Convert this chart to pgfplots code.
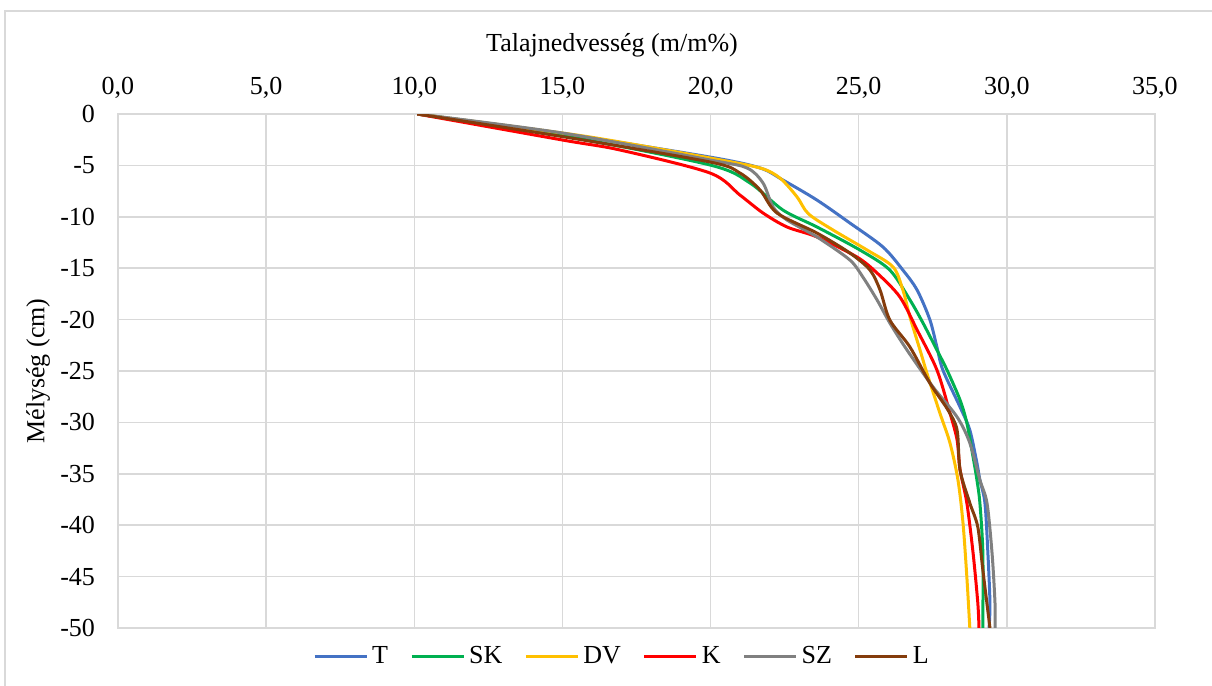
\documentclass[border=0pt]{standalone}
\usepackage{pgfplots}
\pgfplotsset{compat=1.18}
\usepackage{fontspec}
\setmainfont{Liberation Serif}

\definecolor{cT}{HTML}{4472C4}
\definecolor{cSK}{HTML}{00B050}
\definecolor{cDV}{HTML}{FFC000}
\definecolor{cK}{HTML}{FF0000}
\definecolor{cSZ}{HTML}{808080}
\definecolor{cL}{HTML}{843C0C}
\definecolor{gridc}{HTML}{D9D9D9}

\begin{document}
\fontsize{13}{15.6}\selectfont
\begin{tikzpicture}
\path[use as bounding box] (0,0) rectangle (606pt,343pt);
\draw[gridc, line width=0.75pt] (2.5pt,0) -- (2.5pt,337.5pt) -- (606pt,337.5pt);
\begin{axis}[
    at={(59pt,29pt)}, anchor=south west,
    scale only axis,
    width=518.5pt, height=257pt,
    xmin=0, xmax=35, ymin=-50, ymax=0,
    xtick distance=5, ytick distance=5,
    xticklabel pos=upper,
    major tick length=0pt,
    grid=major,
    major grid style={gridc, line width=0.75pt},
    axis line style={gridc, line width=0.75pt},
    /pgf/number format/assume math mode=true,
    font=\fontsize{13}{15.6}\selectfont,
    xticklabel style={/pgf/number format/.cd, fixed, fixed zerofill, precision=1, use comma, /tikz/.cd, yshift=3pt},
    yticklabel style={xshift=-7pt},
    xlabel={Talajnedvesség (m/m\%)},
    ylabel={Mélység (cm)},
    x label style={at={(axis description cs:0.4764,1.134)}, anchor=center},
    y label style={at={(axis description cs:-0.0771,0.5)}, rotate=0, anchor=center},
    legend columns=6,
    legend style={at={(0.487,-0.056)}, anchor=center, draw=none, fill=none,
        /tikz/every even column/.append style={column sep=9pt}},
    legend image code/.code={\draw[#1] (0pt,0pt) -- (26pt,0pt);},
    every axis plot/.append style={line width=1.5pt, smooth, tension=0.5},
]
\addplot[cT] coordinates {
(10.1,0) (15.0,-1.9) (20.0,-4.2) (21.67,-5.25) (22.44,-6.42) (23.59,-8.37)
(24.70,-10.6) (25.82,-12.94) (26.49,-15.18) (26.97,-17.12) (27.40,-20.0)
(27.64,-22.67) (27.84,-24.9) (28.42,-28.5) (28.75,-30.74) (28.99,-33.95)
(29.09,-35.6) (29.26,-37.84) (29.36,-42.7) (29.43,-47.57) (29.40,-50)
};
\addlegendentry{T}
\addplot[cSK] coordinates {
(10.1,0) (15.0,-2.1) (19.98,-4.96) (21.33,-6.71) (22.44,-9.34) (23.59,-10.99)
(25.04,-13.23) (26.05,-15.18) (26.73,-18.09) (27.17,-20.33) (27.64,-22.96)
(27.98,-24.9) (28.42,-27.82) (28.65,-30.06) (28.86,-33.37) (28.99,-35.6)
(29.09,-37.84) (29.19,-42.7) (29.19,-50)
};
\addlegendentry{SK}
\addplot[cDV] coordinates {
(10.1,0) (15.0,-1.85) (16.94,-2.72) (19.98,-4.28) (21.67,-5.25) (22.34,-6.23)
(22.92,-8.07) (23.30,-9.7) (24.13,-11.28) (25.28,-13.23) (26.16,-14.88)
(26.49,-17.12) (26.73,-19.75) (27.07,-22.96) (27.30,-25.19) (27.74,-29.09)
(28.08,-32.0) (28.35,-35.6) (28.52,-39.79) (28.65,-45.04) (28.75,-50)
};
\addlegendentry{DV}
\addplot[cK] coordinates {
(10.1,0) (15.0,-2.53) (16.94,-3.5) (19.98,-5.74) (20.99,-7.88) (21.77,-9.63)
(22.58,-10.99) (23.59,-11.96) (24.94,-13.91) (25.62,-15.47) (26.39,-17.8)
(26.97,-21.0) (27.64,-24.9) (28.08,-29.09) (28.32,-31.71) (28.42,-34.6)
(28.65,-37.84) (28.86,-42.7) (29.02,-47.57) (29.06,-50)
};
\addlegendentry{K}
\addplot[cSZ] coordinates {
(10.1,0) (15.0,-1.85) (19.98,-4.47) (21.23,-5.25) (21.77,-6.71) (22.11,-9.05)
(22.58,-10.31) (23.59,-11.96) (24.70,-14.2) (25.14,-15.86) (25.62,-18.09)
(26.05,-20.33) (26.63,-22.96) (27.51,-26.56) (28.32,-29.47) (28.75,-32.0)
(29.09,-35.6) (29.33,-37.84) (29.50,-42.7) (29.60,-47.57) (29.60,-50)
};
\addlegendentry{SZ}
\addplot[cL] coordinates {
(10.1,0) (15.0,-2.2) (19.98,-4.67) (20.99,-5.74) (21.67,-7.39) (22.24,-9.63)
(23.59,-11.58) (24.70,-13.52) (25.38,-15.18) (25.72,-17.12) (26.05,-20.04)
(26.73,-22.67) (27.40,-26.17) (28.01,-28.79) (28.32,-30.74) (28.42,-34.63)
(28.75,-37.84) (29.02,-40.18) (29.19,-44.36) (29.43,-50)
};
\addlegendentry{L}
\end{axis}
\end{tikzpicture}
\end{document}
